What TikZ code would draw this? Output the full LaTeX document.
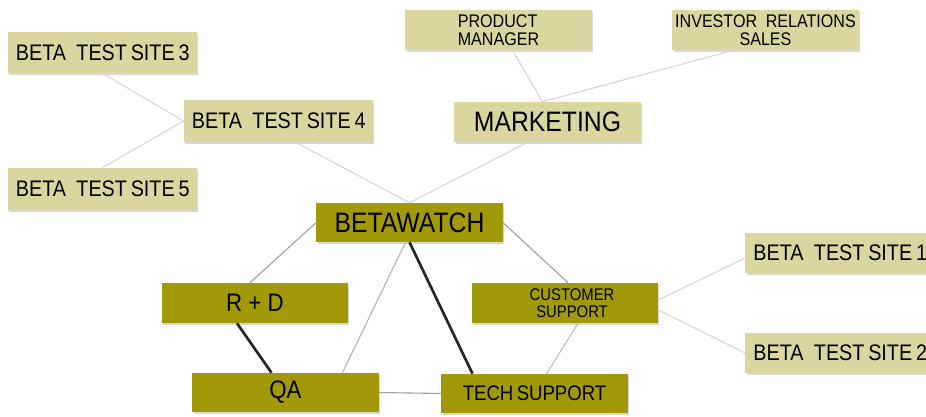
\documentclass[tikz,border=0pt]{standalone}
\usepackage{fontspec}
\setmainfont{Liberation Sans}
\newfontfamily\boxfont[FakeStretch=0.88]{Liberation Sans}
\usetikzlibrary{calc,shadows}

\definecolor{olive}{RGB}{161,153,8}
\definecolor{sand}{RGB}{218,214,160}
\definecolor{faint}{RGB}{214,214,224}
\definecolor{mid}{RGB}{160,160,166}

\tikzset{
  box/.style={rectangle, inner sep=0pt, minimum width=4.65cm, minimum height=1cm,
    font=\boxfont, text=black,
    drop shadow={shadow xshift=0.9pt, shadow yshift=-1.3pt, opacity=0.3}},
  light/.style={box, fill=sand},
  dark/.style={box, fill=olive},
  site/.style={light, inner xsep=0.2cm, text width=4.33cm, align=left,
    font=\boxfont\fontsize{16}{16}\selectfont},
  thin/.style={draw=faint, line width=0.8pt},
  grey/.style={draw=mid, line width=0.8pt},
  heavy/.style={draw=black!85, line width=1.9pt}
}
\newcommand\site[1]{\mbox{BETA\hspace{2pt} TEST\,SITE\,#1}}

\begin{document}
\begin{tikzpicture}[x=0.025cm,y=-0.025cm]
\useasboundingbox (0,0) rectangle (926,416);
\fill[white] (0,0) rectangle (926,416);

\node[site, minimum height=1.025cm] (site3) at (102.5,52.5) {\site3};
\node[site, minimum height=1.05cm] (site4) at (278.5,121) {\site4};
\node[site, minimum height=1.05cm] (site5) at (102.5,189) {\site5};
\node[light, font=\boxfont\fontsize{13}{13}\selectfont, align=left] (pm) at (498.5,30) {PRODUCT\\MANAGER};
\node[light, font=\boxfont\fontsize{13}{13}\selectfont, align=center] (ir) at (765.5,30) {INVESTOR\hspace{3pt} RELATIONS\\SALES};
\node[light, font=\boxfont\fontsize{20}{20}\selectfont] (mkt) at (547.5,122) {MARKETING};

\node[dark, minimum height=0.975cm, font=\boxfont\fontsize{20}{20}\selectfont] (bw) at (409.5,222.5) {BETAWATCH};
\node[dark, font=\boxfont\fontsize{18}{18}\selectfont] (rd) at (255,303) {R + D};
\node[dark, font=\boxfont\fontsize{12}{12}\selectfont, align=center] (cs) at (565,303) {\hspace*{10pt}CUSTOMER\\\hspace*{10pt}SUPPORT};
\node[dark, minimum height=0.975cm, font=\boxfont\fontsize{18}{18}\selectfont] (qa) at (285.5,392.5) {QA};
\node[dark, minimum height=0.975cm, font=\boxfont\fontsize{15}{15}\selectfont] (tech) at (534.5,393.5) {TECH\,SUPPORT};

\node[site] (site1) at (840,253) {\site1};
\node[site] (site2) at (840,353) {\site2};

\draw[thin] (site3.south) -- (site4.west);
\draw[thin] (site5.north) -- (site4.west);
\draw[thin] ($(site4.south)+(17,0)$) -- (bw.north);
\draw[thin] ($(mkt.south)+(-20,0)$) -- (bw.north);
\draw[thin] ($(pm.south)+(14,0)$) -- ($(mkt.north)+(-5,0)$);
\draw[thin] ($(ir.south)+(-32,0)$) -- ($(mkt.north)+(-5,0)$);

\draw[grey] (bw.west) -- ($(rd.north)+(-5,0)$);
\draw[grey, draw=mid!80] ($(bw.south)+(-4,0)$) -- ($(qa.north)+(57,0)$);
\draw[heavy] (bw.south) -- ($(tech.north)+(-62,0)$);
\draw[heavy] ($(rd.south)+(-18,0)$) -- ($(qa.north)+(-14,0)$);
\draw[grey] (qa.east) -- (tech.west);
\draw[grey] (bw.east) -- ($(cs.north)+(3,0)$);
\draw[grey, draw=mid!70] ($(cs.south)+(13,0)$) -- ($(tech.north)+(12,0)$);
\draw[thin] ($(cs.east)+(0,-3)$) -- ($(site1.west)+(0,5)$);
\draw[thin] ($(cs.east)+(0,7)$) -- (site2.west);
\end{tikzpicture}
\end{document}
